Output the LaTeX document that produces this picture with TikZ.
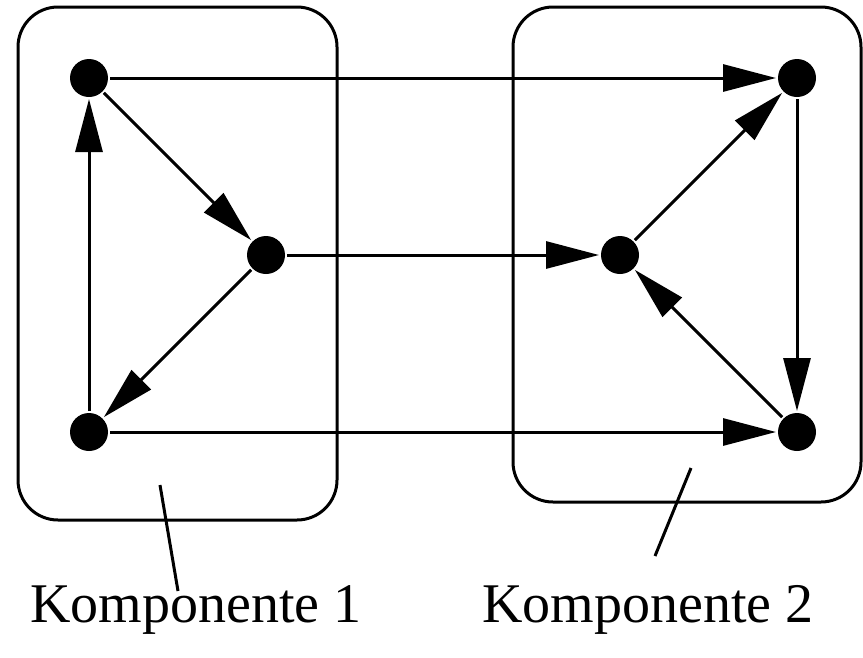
\documentclass[tikz,border=0pt]{standalone}
\usepackage{fontspec}
\setmainfont{Liberation Serif}
\usetikzlibrary{arrows.meta}

\begin{document}
\begin{tikzpicture}[x=1pt,y=-1pt,
    knoten/.style={circle,fill=black,minimum size=38pt,inner sep=0pt,outer sep=2pt},
    kante/.style={-{Triangle[length=53pt,width=27pt]},line width=3pt},
    rahmen/.style={line width=3pt,rounded corners=40pt},
    beschriftung/.style={font=\fontsize{56}{60}\selectfont}]
    \useasboundingbox (0,0) rectangle (863,657);

%____________________________________________________________________________________________________
    \draw[rahmen] (18,7) rectangle (337,520);
    \node[knoten] (a1) at (89,78) {};
    \node[knoten] (a2) at (266,255) {};
    \node[knoten] (a3) at (89,432) {};

    \draw[kante] (a1) -- (a2);
    \draw[kante] (a2) -- (a3);
    \draw[kante] (a3) -- (a1);
%____________________________________________________________________________________________________
    \draw[rahmen] (513,7) rectangle (861,502);
    \node[knoten] (b1) at (797,78) {};
    \node[knoten] (b2) at (620,255) {};
    \node[knoten] (b3) at (797,432) {};

    \draw[kante] (b2) -- (b1);
    \draw[kante] (b1) -- (b3);
    \draw[kante] (b3) -- (b2);
%____________________________________________________________________________________________________
    \draw[kante] (a1) -- (b1);
    \draw[kante] (a2) -- (b2);
    \draw[kante] (a3) -- (b3);

    \node[beschriftung] (k1) at (196,610) {Komponente 1};
    \node[beschriftung] (k2) at (648,610) {Komponente 2};
    \coordinate (z1a) at (160,485);
    \coordinate (z1b) at (178,591);
    \coordinate (z2a) at (691,468);
    \coordinate (z2b) at (655,556);
    \draw[line width=3pt] (z1a) -- (z1b);
    \draw[line width=3pt] (z2a) -- (z2b);
\end{tikzpicture}
\end{document}
